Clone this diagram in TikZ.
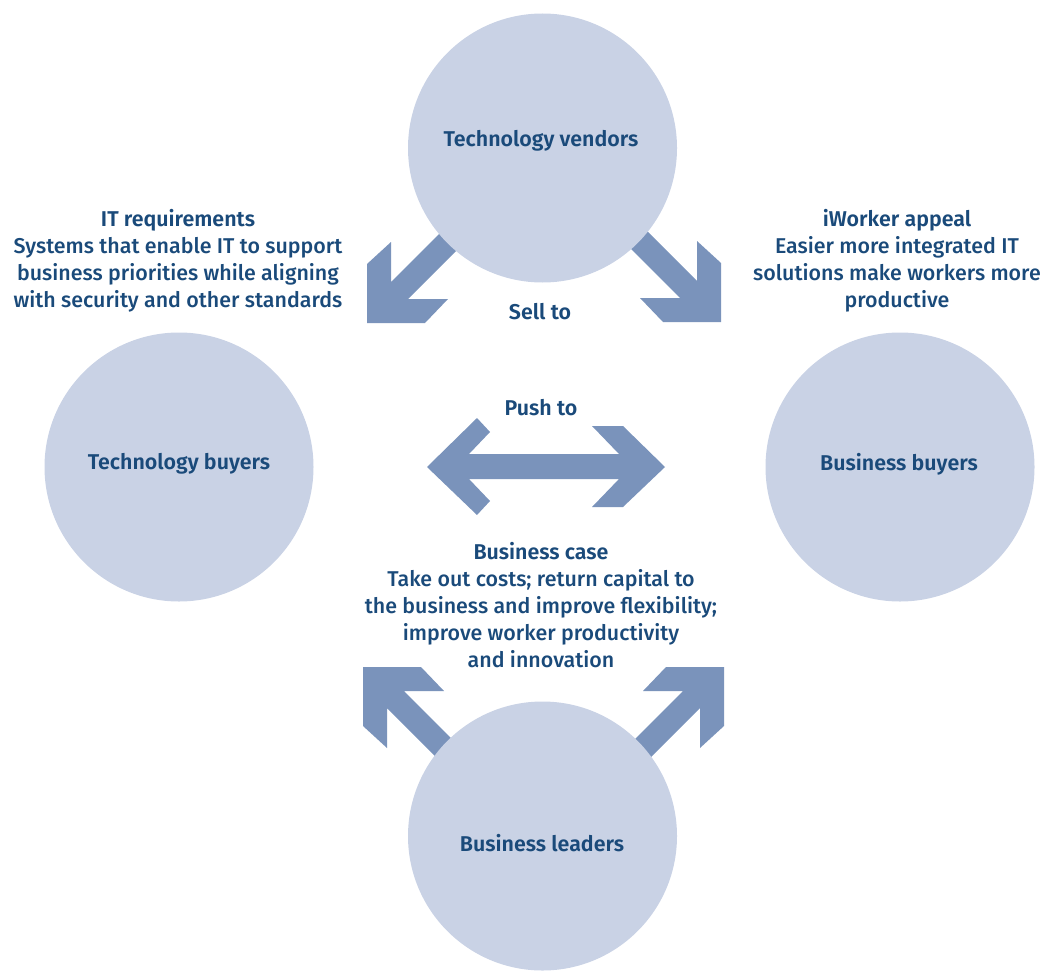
\documentclass[tikz,border=0pt]{standalone}
\usepackage{fontspec}
\setmainfont{Fira Sans}[UprightFont={* Medium},BoldFont={* SemiBold}]
\definecolor{circfill}{HTML}{C9D2E5}
\definecolor{arrowfill}{HTML}{7A93BB}
\definecolor{navy}{HTML}{1A4A7A}
\begin{document}
\begin{tikzpicture}[x=1pt,y=-1pt,
  bubble/.style={circle,fill=circfill,minimum size=269pt,inner sep=0pt},
  note/.style={text=navy,align=center,font=\fontsize{21.4}{27}\selectfont,inner sep=0pt},
  lbl/.style={text=navy,font=\fontsize{21.4}{24}\selectfont\bfseries,inner sep=0pt},
  chev/.style={fill=arrowfill,draw=none}]
\useasboundingbox (0,0) rectangle (1043,971);
\clip (0,0) rectangle (1043,971);
% corner arrows (drawn under the circles)
\def\chevshape{(0,0) -- (0,59) -- (24,81) -- (24,41) -- (124,141) -- (141,124) -- (41,24) -- (81,24) -- (58,0) -- cycle}
\begin{scope}[shift={(367,323)},xscale=1,yscale=-1]
  \fill[chev] \chevshape;
\end{scope}
\begin{scope}[shift={(721,322)},xscale=-1,yscale=-1]
  \fill[chev] \chevshape;
\end{scope}
\begin{scope}[shift={(363,667)},xscale=1,yscale=1]
  \fill[chev] \chevshape;
\end{scope}
\begin{scope}[shift={(724,667)},xscale=-1,yscale=1]
  \fill[chev] \chevshape;
\end{scope}
% double arrow
\fill[chev] (427,467) -- (477,418) -- (490,432) -- (469,454) -- (619,454) -- (592,426) -- (623,426) -- (665,467) -- (623,507) -- (592,507) -- (619,479) -- (469,479) -- (490,501) -- (477,515) -- cycle;
% circles
\node[bubble] (vendors) at (542.5,148) {};
\node[bubble] (tbuyers) at (179,467) {};
\node[bubble] (bbuyers) at (900,467) {};
\node[bubble] (leaders) at (542.5,836) {};
% circle labels
\node[lbl] (vendorsT) at (541,141) {Technology vendors};
\node[lbl] (tbuyersT) at (179,464) {Technology buyers};
\node[lbl] (bbuyersT) at (899,464) {Business buyers};
\node[lbl] (leadersT) at (542,843) {Business leaders};
% texts
\node[lbl] (sell) at (540,312) {Sell to};
\node[lbl] (push) at (541,408) {Push to};
\node[note] (itreq) at (178,260.5) {\textbf{IT requirements}\\Systems that enable IT to support\\business priorities while aligning\\with security and other standards};
\node[note] (iworker) at (897,260.5) {\textbf{iWorker appeal}\\Easier more integrated IT\\solutions make workers more\\productive};
\node[note] (bcase) at (541,605) {\textbf{Business case}\\Take out costs; return capital to\\the business and improve flexibility;\\improve worker productivity\\and innovation};
\end{tikzpicture}
\end{document}
